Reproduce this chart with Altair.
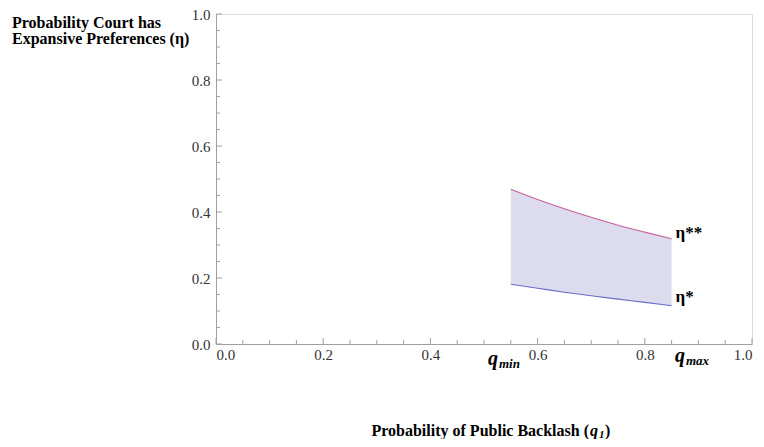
import altair as alt
import pandas as pd

# ---- data ----
q_vals = [0.55, 0.60, 0.65, 0.70, 0.75, 0.80, 0.85]
eta_star = [0.181, 0.169, 0.157, 0.146, 0.136, 0.126, 0.116]      # lower bound (eta*)
eta_dstar = [0.469, 0.438, 0.410, 0.384, 0.360, 0.339, 0.319]     # upper bound (eta**)

major_ticks = [0.0, 0.2, 0.4, 0.6, 0.8, 1.0]
minor_ticks = [0.05, 0.1, 0.15, 0.25, 0.3, 0.35, 0.45, 0.5, 0.55,
               0.65, 0.7, 0.75, 0.85, 0.9, 0.95]

W, H = 536, 330
SERIF = "Liberation Serif"
AXIS_GREY = "#a0a0a0"

df = pd.DataFrame({"q": q_vals, "lo": eta_star, "hi": eta_dstar})

xs = alt.Scale(domain=[0, 1], nice=False, zero=False)
ys = alt.Scale(domain=[0, 1], nice=False, zero=False)

x_axis = alt.Axis(values=major_ticks, format=".1f", title=None, ticks=False,
                  grid=False, domainColor=AXIS_GREY, labelFont=SERIF,
                  labelFontSize=15, labelColor="#333333", labelPadding=3)
y_axis = alt.Axis(values=major_ticks, format=".1f", title=None, ticks=False,
                  grid=False, domainColor=AXIS_GREY, labelFont=SERIF,
                  labelFontSize=15, labelColor="#333333", labelPadding=6)

base = alt.Chart(df)

band = base.mark_area(color="#dcdcee", opacity=1, interpolate="monotone").encode(
    x=alt.X("q:Q", scale=xs, axis=x_axis),
    y=alt.Y("lo:Q", scale=ys, axis=y_axis),
    y2="hi:Q",
)
upper = base.mark_line(color="#c8609a", strokeWidth=1.1, interpolate="monotone").encode(
    x=alt.X("q:Q", scale=xs), y=alt.Y("hi:Q", scale=ys))
lower = base.mark_line(color="#6a6ac8", strokeWidth=1.1, interpolate="monotone").encode(
    x=alt.X("q:Q", scale=xs), y=alt.Y("lo:Q", scale=ys))

end = pd.DataFrame({"q": [q_vals[-1]], "lo": [eta_star[-1]], "hi": [eta_dstar[-1]]})
lab_hi = alt.Chart(end).mark_text(text="η**", font=SERIF, fontWeight="bold",
                                  fontSize=17, align="left", baseline="middle",
                                  dx=4, dy=-6, color="black").encode(
    x=alt.X("q:Q", scale=xs), y=alt.Y("hi:Q", scale=ys))
lab_lo = alt.Chart(end).mark_text(text="η*", font=SERIF, fontWeight="bold",
                                  fontSize=17, align="left", baseline="middle",
                                  dx=4, dy=-9, color="black").encode(
    x=alt.X("q:Q", scale=xs), y=alt.Y("lo:Q", scale=ys))

# inward tick marks
tk_major = pd.DataFrame({"v": major_ticks})
tk_minor = pd.DataFrame({"v": minor_ticks})
y_major = alt.Chart(tk_major).mark_rule(color=AXIS_GREY).encode(
    y=alt.Y("v:Q", scale=ys), x=alt.value(0), x2=alt.value(6))
y_minor = alt.Chart(tk_minor).mark_rule(color=AXIS_GREY).encode(
    y=alt.Y("v:Q", scale=ys), x=alt.value(0), x2=alt.value(4))
x_major = alt.Chart(tk_major).mark_rule(color=AXIS_GREY).encode(
    x=alt.X("v:Q", scale=xs), y=alt.value(H), y2=alt.value(H - 6))
x_minor = alt.Chart(tk_minor).mark_rule(color=AXIS_GREY).encode(
    x=alt.X("v:Q", scale=xs), y=alt.value(H), y2=alt.value(H - 4))

one = pd.DataFrame({"a": [0]})


def txt(s, x, y, size=16, style="normal", align="left", weight="bold"):
    return alt.Chart(one).mark_text(text=s, font=SERIF, fontSize=size,
                                    fontWeight=weight, fontStyle=style,
                                    align=align, baseline="alphabetic",
                                    color="black").encode(
        x=alt.value(x), y=alt.value(y))


titles = [
    txt("Probability Court has", -204, 14),
    txt("Expansive Preferences (η)", -204, 30),
    txt("Probability of Public Backlash (", 373, 422, align="right"),
    txt("q", 374, 422, style="italic"),
    txt("1", 383, 424, size=11, style="italic"),
    txt(")", 389, 422),
    txt("q", 272, 351, size=20, style="italic"),
    txt("min", 283, 354, size=13, style="italic"),
    txt("q", 459, 348, size=20, style="italic"),
    txt("max", 470, 351, size=13, style="italic"),
]

chart = alt.layer(band, upper, lower, y_major, y_minor, x_major, x_minor,
                  lab_hi, lab_lo, *titles).properties(
    width=W, height=H,
    autosize=alt.AutoSizeParams(type="none"),
    padding={"left": 208, "top": 6, "right": 4, "bottom": 95},
).configure_view(stroke=None).configure(background="white")

chart.save("out.html", embed_options={"renderer": "svg", "actions": False})
